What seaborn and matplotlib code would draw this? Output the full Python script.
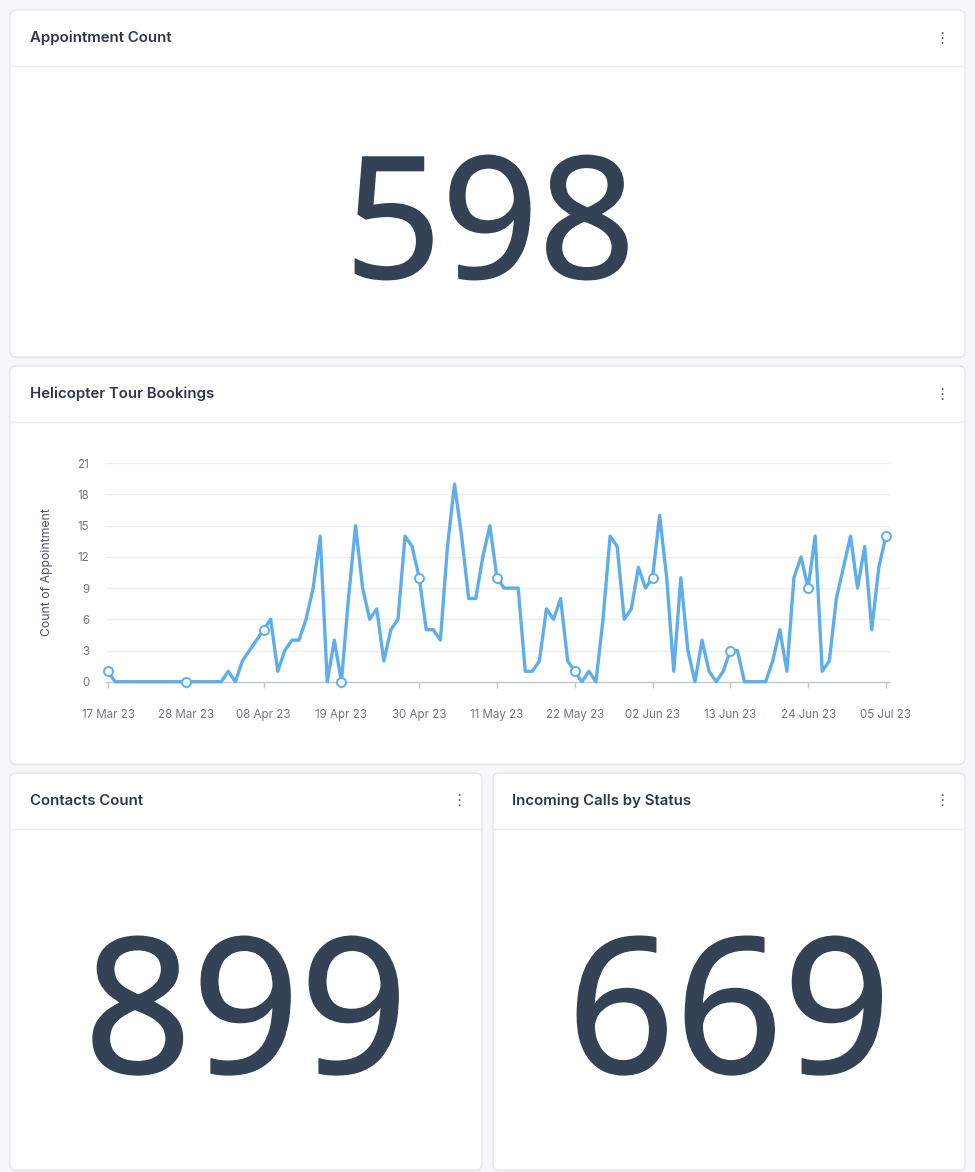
import seaborn as sns
import matplotlib.pyplot as plt
import matplotlib.patheffects as pe
from matplotlib.patches import FancyBboxPatch
from matplotlib.lines import Line2D
from matplotlib.transforms import IdentityTransform
import pandas as pd
import numpy as np

# data
start_date = '2023-03-17'
bookings = [1, 0, 0, 0, 0, 0, 0, 0, 0, 0, 0, 0, 0, 0, 0, 0, 0,
            1, 0, 2, 3, 4, 5, 6, 1, 3, 4, 4, 6, 9, 14, 0, 4, 0,
            8, 15, 9, 6, 7, 2, 5, 6, 14, 13, 10, 5, 5, 4, 13, 19,
            14, 8, 8, 12, 15, 10, 9, 9, 9, 1, 1, 2, 7, 6, 8, 2,
            1, 0, 1, 0, 6, 14, 13, 6, 7, 11, 9, 10, 16, 10, 1, 10,
            3, 0, 4, 1, 0, 1, 3, 3, 0, 0, 0, 0, 2, 5, 1, 10, 12,
            9, 14, 1, 2, 8, 11, 14, 9, 13, 5, 11, 14]
card_titles = ['Appointment Count', 'Helicopter Tour Bookings',
               'Contacts Count', 'Incoming Calls by Status']
kpi_values = ['598', '899', '669']

W, H = 975, 1172
line_color = '#5eaeec'
title_color = '#2d3748'
num_color = '#344256'

sns.set_theme(style='white')
plt.rcParams['font.family'] = ['Inter', 'DejaVu Sans']

fig = plt.figure(figsize=(W / 100, H / 100), dpi=100, facecolor='#f6f7f9')
px = IdentityTransform()


def card(x0, y0, x1, y1, title, title_x):
    # shadow + white card, coordinates in pixels from top-left
    fig.add_artist(FancyBboxPatch((x0, H - y1 - 1.5), x1 - x0, y1 - y0,
                                  boxstyle='round,pad=0,rounding_size=6',
                                  transform=px, fc='#e6e8ec', ec='none', zorder=0))
    fig.add_artist(FancyBboxPatch((x0, H - y1), x1 - x0, y1 - y0,
                                  boxstyle='round,pad=0,rounding_size=6',
                                  transform=px, fc='white', ec='#e4e7eb', lw=1, zorder=1))
    fig.add_artist(Line2D([x0 + 1, x1 - 1], [H - y0 - 56, H - y0 - 56],
                          transform=px, color='#ebedf0', lw=1, zorder=2))
    fig.text(title_x, H - y0 - 28, title, transform=px, fontsize=10.8,
             fontweight='semibold', color=title_color, va='center', ha='left', zorder=3)
    fig.text(x1 - 23, H - y0 - 28, '⋮', transform=px, fontsize=11,
             family='DejaVu Sans', color='#555b66', va='center', ha='center', zorder=3)


card(10, 10, 965, 357, card_titles[0], 30)
card(10, 366, 965, 764, card_titles[1], 30)
card(10, 773, 482, 1170, card_titles[2], 30)
card(493, 773, 965, 1170, card_titles[3], 512)

# big KPI numbers (thin stroke outline to match the heavier weight)
thicken = [pe.withStroke(linewidth=1.1, foreground=num_color)]
num_font = dict(family='Noto Sans', color=num_color, ha='center', va='baseline',
                zorder=3, transform=px, path_effects=thicken)
fig.text(490, H - 278, kpi_values[0], fontsize=122, **num_font)
fig.text(246, H - 1073, kpi_values[1], fontsize=136, **num_font)
fig.text(729, H - 1073, kpi_values[2], fontsize=136, **num_font)

# line chart
df = pd.DataFrame({'date': pd.date_range(start_date, periods=len(bookings)),
                   'count': bookings})

left, right, top, bottom = 106, 890, 463.3, 681.7
ax = fig.add_axes([left / W, 1 - bottom / H, (right - left) / W, (bottom - top) / H])
ax.set_facecolor('none')
ax.set_zorder(5)

sns.lineplot(data=df, x='date', y='count', color=line_color, linewidth=2.4,
             ax=ax, clip_on=False, zorder=3)
sns.scatterplot(data=df.iloc[::11], x='date', y='count', s=42, color='white',
                edgecolor=line_color, linewidth=1.4, ax=ax, clip_on=False, zorder=4)

ax.set_ylim(0, 21)
ax.set_yticks(np.arange(0, 22, 3))
ax.set_xlim(df['date'].iloc[0] - pd.Timedelta(hours=7),
            df['date'].iloc[-1] + pd.Timedelta(hours=14))
tick_dates = df['date'].iloc[::11]
ax.set_xticks(tick_dates)
ax.set_xticklabels([d.strftime('%d %b %y') for d in tick_dates])

ax.grid(axis='y', color='#eceef1', lw=1)
ax.grid(axis='x', visible=False)
for s in ['top', 'right', 'left']:
    ax.spines[s].set_visible(False)
ax.spines['bottom'].set_color('#c4c8cd')
ax.spines['bottom'].set_linewidth(1)
ax.tick_params(axis='x', which='both', bottom=True, length=4, width=1,
               color='#c4c8cd', pad=16, labelsize=8.3, labelcolor='#6f7680')
ax.tick_params(axis='y', left=False, pad=6, labelsize=8.3, labelcolor='#6f7680')
ax.set_xlabel('')
ax.set_ylabel('Count of Appointment', fontsize=8.8, color='#4a5160')
ax.yaxis.set_label_coords(-0.068, 0.5)

fig.savefig('out.png', dpi=100, facecolor=fig.get_facecolor())
